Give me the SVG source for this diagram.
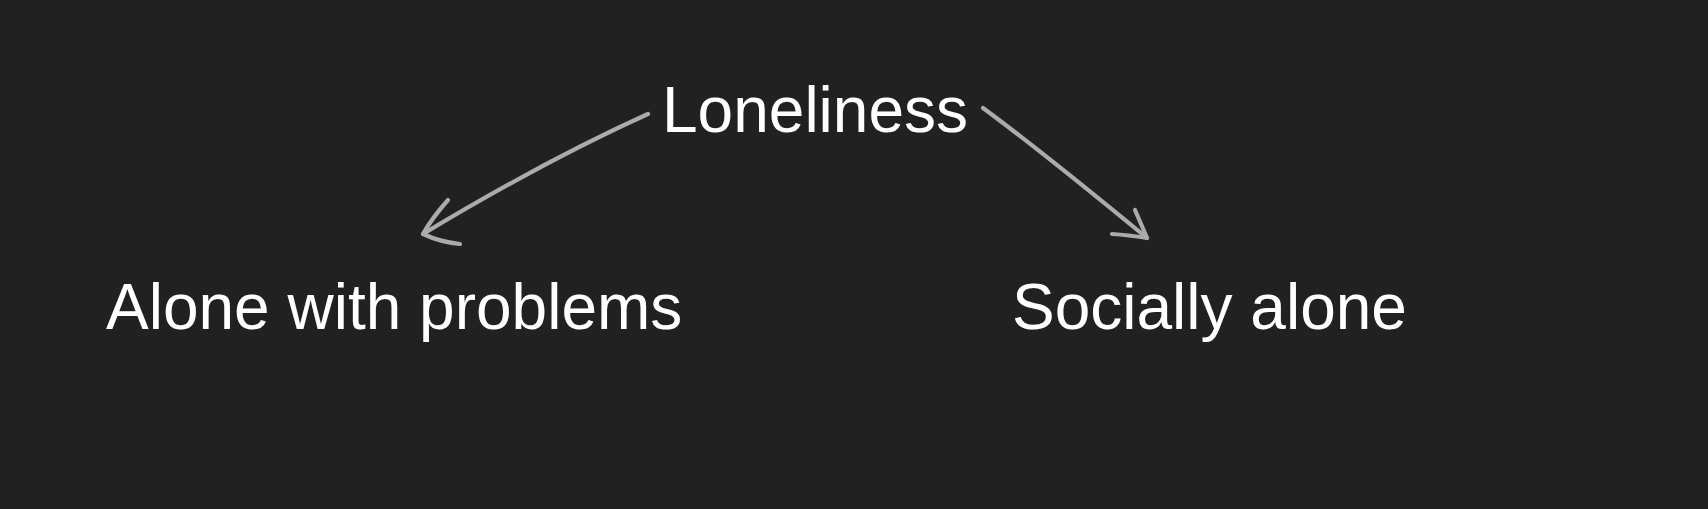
<svg xmlns="http://www.w3.org/2000/svg" width="1708" height="509" viewBox="0 0 1708 509">
<style>
.lbl{font-family:"Liberation Sans",Arial,sans-serif;font-size:64px;fill:#ffffff}
.arr{fill:none;stroke:#ababab;stroke-width:4.2;stroke-linecap:round;stroke-linejoin:round}
</style>
<rect width="1708" height="509" fill="#212121"/>
<g id="connectors">
<g id="edge-left">
<path class="arr" d="M648,114 Q546,160 423,234"/>
<path class="arr" d="M448,200 Q432,218 423,234 Q440,242 460,244"/>
</g>
<g id="edge-right">
<path class="arr" d="M983,108 Q1040,150 1147,238"/>
<path class="arr" d="M1135,210 Q1142,226 1147,238 Q1128,235 1112,234"/>
</g>
</g>
<g id="node-loneliness"><text class="lbl" x="662" y="132">Loneliness</text></g>
<g id="node-alone-with-problems"><text class="lbl" x="106" y="329">Alone with problems</text></g>
<g id="node-socially-alone"><text class="lbl" x="1012" y="329">Socially alone</text></g>
</svg>
